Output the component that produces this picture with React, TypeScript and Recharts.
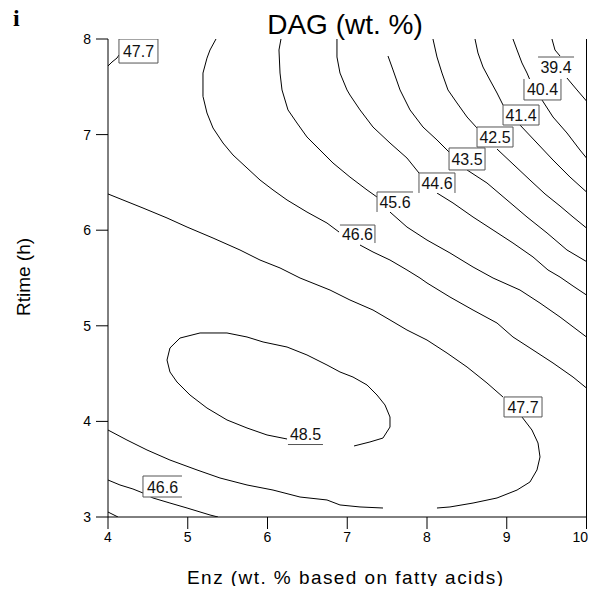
import React from "react";
import { ComposedChart, Line, Scatter, XAxis, YAxis, ReferenceLine } from "recharts";

// ---- tick values ----
const xTicks = [4, 5, 6, 7, 8, 9, 10];
const yTicks = [3, 4, 5, 6, 7, 8];

// ---- contour segments (Enz, Rtime) ----
const c394A: [number, number][] = [[9.567, 8.0], [9.605, 7.885], [9.668, 7.822]];
const c394B: [number, number][] = [[9.755, 7.592], [9.881, 7.467], [10.0, 7.351]];
const c404A: [number, number][] = [[9.078, 8.0], [9.129, 7.885], [9.191, 7.749], [9.254, 7.644], [9.291, 7.571]];
const c404B: [number, number][] = [[9.442, 7.362], [9.58, 7.184], [9.755, 7.017], [9.918, 6.839], [10.0, 6.755]];
const c414A: [number, number][] = [[8.602, 8.0], [8.639, 7.854], [8.702, 7.707], [8.789, 7.571], [8.878, 7.435], [8.953, 7.31]];
const c414B: [number, number][] = [[9.166, 7.1], [9.379, 6.912], [9.58, 6.734], [9.793, 6.556], [10.0, 6.4]];
const c425A: [number, number][] = [[8.075, 8.0], [8.125, 7.812], [8.188, 7.644], [8.263, 7.467], [8.376, 7.331], [8.502, 7.184], [8.627, 7.069]];
const c425B: [number, number][] = [[8.878, 6.849], [9.078, 6.692], [9.291, 6.525], [9.48, 6.379], [9.668, 6.253], [9.831, 6.138], [10.0, 6.023]];
const c435A: [number, number][] = [[7.511, 7.822], [7.574, 7.676], [7.662, 7.467], [7.787, 7.258], [7.95, 7.079], [8.125, 6.944], [8.288, 6.808]];
const c435B: [number, number][] = [[8.502, 6.63], [8.752, 6.494], [9.003, 6.316], [9.254, 6.138], [9.505, 5.971], [9.755, 5.793], [10.0, 5.672]];
const c446A: [number, number][] = [[6.871, 8.0], [6.871, 7.812], [6.909, 7.644], [6.997, 7.467], [7.034, 7.414], [7.16, 7.258], [7.323, 7.079], [7.536, 6.912], [7.749, 6.755], [7.9, 6.598]];
const c446B: [number, number][] = [[8.125, 6.389], [8.326, 6.285], [8.577, 6.138], [8.828, 6.002], [9.078, 5.866], [9.329, 5.72], [9.517, 5.584], [9.668, 5.51], [9.831, 5.416], [10.0, 5.322]];
const c456A: [number, number][] = [[6.169, 8.0], [6.144, 7.885], [6.157, 7.644], [6.182, 7.467], [6.257, 7.258], [6.37, 7.121], [6.495, 6.975], [6.658, 6.839], [6.821, 6.703], [7.034, 6.556], [7.248, 6.421], [7.373, 6.347]];
const c456B: [number, number][] = [[7.536, 6.19], [7.749, 6.033], [8.0, 5.897], [8.288, 5.762], [8.577, 5.615], [8.828, 5.5], [9.166, 5.374], [9.417, 5.238], [9.668, 5.092], [10.0, 4.883]];
const c456Low: [number, number][] = [[4.0, 3.052], [4.125, 3.0]];
const c466A: [number, number][] = [[5.354, 8.0], [5.279, 7.885], [5.241, 7.8], [5.191, 7.644], [5.191, 7.4], [5.241, 7.226], [5.317, 7.069], [5.442, 6.912], [5.567, 6.787], [5.743, 6.651], [5.906, 6.525], [6.069, 6.421], [6.245, 6.316], [6.495, 6.19], [6.746, 6.075], [6.897, 5.981]];
const c466B: [number, number][] = [[7.16, 5.845], [7.323, 5.772], [7.536, 5.688], [7.749, 5.584], [7.912, 5.5], [8.0, 5.448], [8.288, 5.301], [8.577, 5.165], [8.878, 5.029], [9.078, 4.883], [9.291, 4.768], [9.58, 4.611], [9.831, 4.464], [10.0, 4.349]];
const c466Low: [number, number][] = [[4.0, 3.387], [4.15, 3.335], [4.313, 3.293], [4.439, 3.251], [4.564, 3.199], [4.777, 3.146], [4.991, 3.094], [5.279, 3.021], [5.379, 3.0]];
const c477Top: [number, number][] = [[4.0, 7.718], [4.05, 7.759], [4.113, 7.801], [4.138, 7.833]];
const c477A: [number, number][] = [[4.0, 6.379], [4.188, 6.316], [4.439, 6.232], [4.74, 6.128], [4.991, 6.033], [5.317, 5.918], [5.655, 5.793], [5.906, 5.688], [6.157, 5.605], [6.408, 5.5], [6.784, 5.374], [7.034, 5.27], [7.323, 5.165], [7.536, 5.061], [7.749, 4.956], [8.0, 4.851], [8.251, 4.715], [8.502, 4.569], [8.752, 4.402], [8.953, 4.255]];
const c477B: [number, number][] = [[9.191, 4.046], [9.316, 3.91], [9.392, 3.774], [9.417, 3.628], [9.379, 3.492], [9.291, 3.366], [9.129, 3.282], [8.878, 3.199], [8.577, 3.146], [8.288, 3.105], [8.125, 3.094]];
const c477C: [number, number][] = [[7.448, 3.094], [7.16, 3.105], [6.909, 3.126], [6.746, 3.178], [6.408, 3.209], [6.069, 3.282], [5.743, 3.335], [5.404, 3.408], [5.116, 3.492], [4.777, 3.596], [4.489, 3.701], [4.238, 3.805], [4.0, 3.91]];
const c485: [number, number][] = [[7.085, 3.743], [7.285, 3.785], [7.448, 3.826], [7.536, 3.941], [7.536, 4.046], [7.473, 4.172], [7.373, 4.276], [7.248, 4.381], [7.072, 4.464], [6.909, 4.517], [6.746, 4.59], [6.495, 4.695], [6.245, 4.778], [5.944, 4.831], [5.743, 4.883], [5.492, 4.925], [5.154, 4.925], [4.903, 4.872], [4.777, 4.768], [4.74, 4.642], [4.777, 4.517], [4.865, 4.412], [5.028, 4.276], [5.241, 4.14], [5.492, 4.015], [5.743, 3.931], [5.994, 3.858], [6.245, 3.816]];

// ---- contour labels ----
const labelText = ["47.7", "39.4", "40.4", "41.4", "42.5", "43.5", "44.6", "45.6", "46.6", "46.6", "47.7", "48.5"];
const labelX = [4.382, 9.618, 9.448, 9.179, 8.853, 8.502, 8.125, 7.599, 7.128, 4.683, 9.204, 6.476];
const labelY = [7.874, 7.707, 7.472, 7.205, 6.975, 6.745, 6.494, 6.295, 5.96, 3.319, 4.151, 3.868];

// styling of label boxes (size and which sides are drawn)
const BOX_W = [39, 36, 37, 36, 36, 36, 36, 36, 35, 39, 38, 35];
const BOX_H = [24, 20, 21, 20, 20, 22, 20, 20, 18, 21, 20, 21];
const BOX_SIDES = ["tlrb", "t", "lbr", "tlrb", "tlrb", "tlrb", "tlr", "tl", "tr", "tlb", "tlrb", "b"];

const segments = [c394A, c394B, c404A, c404B, c414A, c414B, c425A, c425B, c435A, c435B, c446A, c446B, c456A, c456B, c456Low, c466A, c466B, c466Low, c477Top, c477A, c477B, c477C, c485];

const toPts = (s: [number, number][]) => s.map(([x, y]) => ({ x, y }));
const labelData = labelText.map((t, i) => ({ x: labelX[i], y: labelY[i], text: t, i }));

const FONT = "'Liberation Sans', Arial, Helvetica, sans-serif";

const LabelBox = (props: any) => {
  const { cx, cy, payload } = props;
  if (cx == null || cy == null) return null;
  const i = payload.i;
  const w = BOX_W[i];
  const h = BOX_H[i];
  const x0 = cx - w / 2;
  const y0 = cy - h / 2;
  const sides = BOX_SIDES[i];
  const st = { stroke: "#555", strokeWidth: 1 };
  return (
    <g>
      <rect x={x0} y={y0} width={w} height={h} fill="#fff" stroke="none" />
      {sides.includes("t") && <line x1={x0} y1={y0} x2={x0 + w} y2={y0} {...st} />}
      {sides.includes("b") && <line x1={x0} y1={y0 + h} x2={x0 + w} y2={y0 + h} {...st} />}
      {sides.includes("l") && <line x1={x0} y1={y0} x2={x0} y2={y0 + h} {...st} />}
      {sides.includes("r") && <line x1={x0 + w} y1={y0} x2={x0 + w} y2={y0 + h} {...st} />}
      <text x={cx} y={cy + 6} textAnchor="middle" fontSize={16} fill="#111" fontFamily={FONT}>
        {payload.text}
      </text>
    </g>
  );
};

// last tick is pulled in so it stays inside the visible page width
const XTick = (props: any) => {
  const { x, y, payload } = props;
  const last = payload.value === xTicks[xTicks.length - 1];
  return (
    <text
      x={last ? x + 1.5 : x}
      y={y + 10}
      textAnchor={last ? "end" : "middle"}
      fontSize={14}
      fill="#000"
      fontFamily={FONT}
    >
      {payload.value}
    </text>
  );
};

export default function App() {
  const W = 596;
  const H = 594;
  return (
    <div
      style={{
        position: "relative",
        width: W,
        height: H,
        margin: "-8px -8px -8px -8px",
        fontFamily: FONT,
        background: "#fff",
      }}
    >
      <ComposedChart width={W} height={H} margin={{ top: 39, right: 9.5, left: 0, bottom: 37 }}>
        <XAxis
          dataKey="x"
          type="number"
          domain={[4, 10]}
          ticks={xTicks}
          tickSize={12}
          tickMargin={3}
          height={40}
          stroke="#000"
          tick={<XTick />}
          interval={0}
          allowDataOverflow
        />
        <YAxis
          dataKey="y"
          type="number"
          domain={[3, 8]}
          ticks={yTicks}
          tickSize={12}
          tickMargin={5}
          width={108}
          stroke="#000"
          tick={{ fill: "#000", fontSize: 14 }}
          interval={0}
          allowDataOverflow
        />
        <ReferenceLine x={10} stroke="#000" strokeWidth={1} />
        {segments.map((s, k) => (
          <Line
            key={k}
            data={toPts(s)}
            dataKey="y"
            type="linear"
            stroke="#000"
            strokeWidth={1}
            dot={false}
            activeDot={false}
            isAnimationActive={false}
            legendType="none"
          />
        ))}
        <Scatter data={labelData} dataKey="y" shape={LabelBox} isAnimationActive={false} />
      </ComposedChart>
      <svg
        width={W}
        height={H}
        style={{ position: "absolute", left: 0, top: 0, pointerEvents: "none" }}
      >
        <text x={13} y={26} fontSize={24} fontWeight="bold" fontFamily="'Liberation Serif', 'Times New Roman', serif" fill="#000">
          i
        </text>
        <text x={345} y={34} fontSize={28} textAnchor="middle" fill="#000" fontFamily={FONT}>
          DAG (wt. %)
        </text>
        <text x={345} y={584} fontSize={19} textAnchor="middle" fill="#000" fontFamily={FONT} textLength={316} lengthAdjust="spacing">
          Enz (wt. % based on fatty acids)
        </text>
        <text
          transform="translate(30,277) rotate(-90)"
          x={0}
          y={0}
          fontSize={19}
          textAnchor="middle"
          fill="#000"
          fontFamily={FONT}
        >
          Rtime (h)
        </text>
      </svg>
    </div>
  );
}
